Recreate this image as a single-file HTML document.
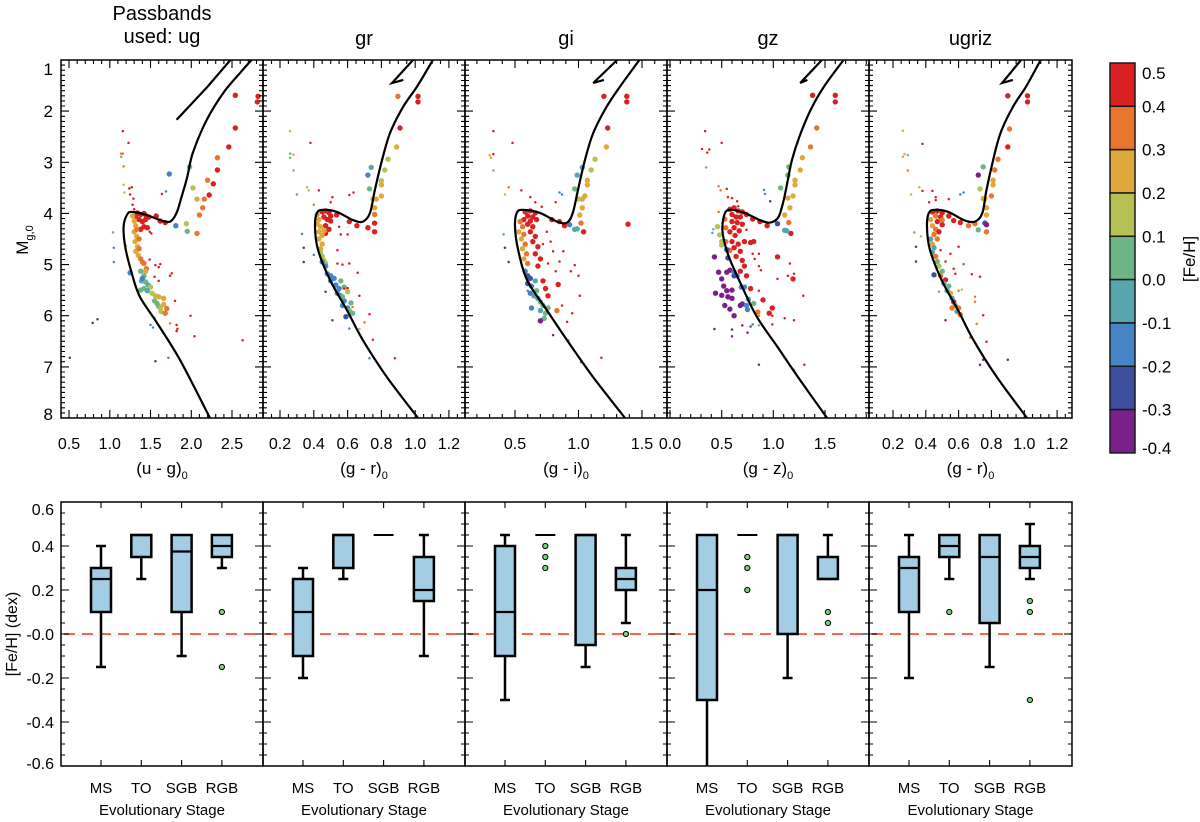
<!DOCTYPE html>
<html><head><meta charset="utf-8"><title>CMD and [Fe/H] box plots</title>
<style>
html,body{margin:0;padding:0;background:#fff;}
svg{display:block;font-family:"Liberation Sans",Arial,sans-serif;}
</style></head>
<body>
<svg id="chart" width="1200" height="822" viewBox="0 0 1200 822" xmlns="http://www.w3.org/2000/svg"></svg>
<script>
// ---------- DATA ----------
const fehBinColors=['#d92121','#e8762f','#e0a83a','#b5c152','#6db585','#57a6ae','#4585c6','#3f4fa0','#7a1f8c'];
const colorbarLabels=['0.5','0.4','0.3','0.2','0.1','0.0','-0.1','-0.2','-0.3','-0.4'];
const yTicksTop=[1,2,3,4,5,6,7,8];
const ticksUg=[0.5,1.0,1.5,2.0,2.5];
const ticksGr=[0.2,0.4,0.6,0.8,1.0,1.2];
const ticksGi=[0.5,1.0,1.5];
const ticksGz=[0.0,0.5,1.0,1.5];
const ticksUgriz=[0.2,0.4,0.6,0.8,1.0,1.2];
const yTicksBot=[0.6,0.4,0.2,0.0,-0.2,-0.4,-0.6];
const yTickLabelsBot=['0.6','0.4','0.2','-0.0','-0.2','-0.4','-0.6'];
const stages=['MS','TO','SGB','RGB'];

const isoUg=[[2.23,8.0],[1.86,6.86],[1.58,6.14],[1.37,5.63],[1.27,5.17],[1.19,4.65],[1.17,4.26],[1.21,4.03],[1.27,3.97],[1.45,4.03],[1.62,4.13],[1.74,4.16],[1.82,3.99],[1.88,3.68],[1.95,3.29],[2.02,2.81],[2.19,2.17],[2.39,1.65],[2.6,1.25],[2.74,1.0]];
const hbUg=[[1.82,2.17],[2.2,1.52],[2.48,1.0]];
const isoGr=[[1.017,8.0],[0.833,7.2],[0.691,6.48],[0.596,5.89],[0.496,5.3],[0.425,4.71],[0.407,4.26],[0.419,3.99],[0.454,3.93],[0.537,3.97],[0.632,4.13],[0.691,4.16],[0.733,3.99],[0.762,3.54],[0.804,2.96],[0.851,2.43],[0.928,1.92],[1.011,1.52],[1.105,1.0]];
const hbGr=[[0.987,1.0],[0.863,1.45],[0.93,1.39]];
const isoGi=[[1.366,8.0],[1.115,7.2],[0.91,6.48],[0.75,5.89],[0.594,5.3],[0.524,4.71],[0.5,4.26],[0.514,3.99],[0.563,3.93],[0.697,3.99],[0.83,4.16],[0.91,4.18],[0.955,3.99],[0.996,3.54],[1.05,2.96],[1.116,2.43],[1.22,1.92],[1.327,1.52],[1.48,1.0]];
const hbGi=[[1.305,1.0],[1.116,1.45],[1.2,1.39]];
const isoGz=[[1.52,8.0],[1.26,7.26],[1.04,6.61],[0.84,6.02],[0.70,5.44],[0.57,4.85],[0.51,4.39],[0.52,4.07],[0.57,3.93],[0.72,3.99],[0.87,4.13],[0.97,4.18],[1.05,4.07],[1.10,3.74],[1.14,3.35],[1.18,2.96],[1.25,2.51],[1.36,1.98],[1.49,1.52],[1.68,1.0]];
const hbGz=[[1.47,1.0],[1.26,1.45],[1.33,1.39]];
const isoUgriz=[[1.017,8.0],[0.833,7.2],[0.691,6.48],[0.596,5.89],[0.496,5.3],[0.425,4.71],[0.407,4.26],[0.419,3.99],[0.454,3.93],[0.537,3.97],[0.632,4.13],[0.70,4.16],[0.745,3.99],[0.77,3.54],[0.81,2.96],[0.855,2.43],[0.93,1.92],[1.011,1.52],[1.1,1.0]];
const hbUgriz=[[0.98,1.0],[0.865,1.45],[0.93,1.39]];

// stars: [colour index, M_g, [Fe/H], big(1)/small(0)]
const starsUg=[[2.54,1.69,.45,1],[2.82,1.71,.45,1],[2.81,1.82,.45,1],[2.54,2.33,.45,1],[2.46,2.70,.45,1],[2.32,2.91,.35,1],[2.32,3.15,.45,1],[2.2,3.35,.35,1],[2.27,3.42,.45,1],[2.22,3.64,.45,1],[2.16,3.72,.35,1],[2.07,3.72,.25,1],[2.14,3.89,.35,1],[2.1,4.03,.35,1],[1.98,3.09,.05,1],[2.02,3.50,.15,1],[1.73,3.23,-.15,1],[1.94,4.2,.15,1],[2.07,4.39,.35,1],[1.95,4.35,.05,1],[1.81,4.24,-.15,1],[1.68,4.18,.45,1],[1.57,4.05,.45,1],[1.62,4.15,.45,1],
[1.34,3.99,.45,1],[1.38,4.02,.45,1],[1.42,4.0,.45,1],[1.45,4.05,.45,1],[1.36,4.12,.45,1],[1.4,4.16,.45,1],[1.44,4.12,.45,1],[1.42,4.26,.45,1],[1.46,4.28,.45,1],[1.38,4.31,.45,1],[1.32,4.05,.45,1],[1.48,4.07,.45,1],
[1.28,4.05,.25,1],[1.3,4.15,.25,1],[1.32,4.24,.25,1],[1.3,4.36,.25,1],[1.33,4.45,.25,1],[1.31,4.55,.25,1],[1.34,4.65,.25,1],[1.32,4.74,.25,1],[1.35,4.82,.25,1],[1.33,4.31,.35,1],[1.36,4.5,.35,1],[1.36,4.69,.35,1],
[1.38,4.89,.35,1],[1.42,4.98,.35,1],[1.45,5.08,.35,1],[1.4,4.95,.35,1],[1.44,5.13,.25,1],
[1.38,5.13,.05,1],[1.42,5.22,.05,1],[1.39,5.32,-.05,1],[1.44,5.34,.05,1],[1.47,5.4,-.05,1],[1.42,5.47,.05,1],[1.5,5.44,.15,1],[1.46,5.51,-.05,1],[1.38,5.5,.05,1],[1.52,5.56,.15,1],[1.56,5.61,.15,1],[1.55,5.71,.05,1],[1.58,5.76,.05,1],[1.6,5.82,.05,1],[1.62,5.85,.15,1],[1.6,5.63,.25,1],[1.66,5.66,.25,1],[1.66,5.78,.25,1],[1.63,5.92,.15,1],[1.68,5.95,.35,1],[1.7,5.86,.35,1],[1.25,5.16,-.15,1],[1.4,5.27,-.15,1],
[1.16,2.39,.45,0],[1.23,2.62,.45,0],[1.14,2.83,.35,0],[1.16,2.83,.35,0],[1.14,2.89,.05,0],[1.17,3.08,.35,0],[1.17,3.44,.15,0],[1.18,3.59,.15,0],[1.24,3.51,.45,0],[1.27,3.49,.45,0],[1.25,3.63,.45,0],[1.29,3.71,.45,0],[1.64,3.62,.45,0],[1.69,3.57,-.15,0],[1.04,4.37,.05,0],[1.05,4.67,-.15,0],[1.05,4.95,-.15,0],[1.2,4.63,.15,0],[1.49,4.36,.45,0],[1.51,4.39,.45,0],[1.49,4.9,.45,0],[1.56,5.01,.45,0],[1.6,5.05,.45,0],[1.62,4.99,.45,0],[1.74,5.22,.45,0],[1.76,5.17,.45,0],[1.8,5.71,.45,0],[1.99,6.0,.45,0],[1.74,6.15,.35,0],[1.82,6.18,.45,0],[1.83,6.26,.45,0],[1.82,6.3,.45,0],[2.04,6.4,.45,0],[2.63,6.48,.45,0],[1.5,6.18,-.15,0],[1.53,6.23,-.15,0],[1.55,6.04,.05,0],[0.79,6.14,-.35,0],[0.85,6.07,-.35,0],[0.51,6.82,-.35,0],[1.56,6.89,-.35,0],[1.72,6.82,-.15,0],[1.3,3.92,.45,0],[1.28,3.83,.45,0],[1.55,5.24,.45,0],[1.6,5.32,.45,0]];

const starsGr=[[0.898,1.71,.35,1],[1.017,1.71,.45,1],[1.017,1.82,.45,1],[0.91,2.33,.45,1],[0.89,2.70,.25,1],[0.84,2.94,.15,1],[0.82,3.15,.15,1],[0.8,3.36,.15,1],[0.8,3.44,.25,1],[0.8,3.66,.25,1],[0.75,3.72,.15,1],[0.77,3.72,.25,1],[0.76,3.89,.25,1],[0.76,4.02,.35,1],[0.76,4.19,.45,1],[0.76,4.36,.45,1],[0.74,3.1,-.05,1],[0.72,3.25,-.15,1],[0.73,3.52,.05,1],[0.72,4.28,.45,1],[0.655,4.24,.45,1],[0.61,4.16,.45,1],[0.535,4.03,.45,1],
[0.45,3.97,.45,1],[0.47,3.95,.45,1],[0.49,3.99,.45,1],[0.5,4.05,.45,1],[0.46,4.07,.45,1],[0.48,4.12,.45,1],[0.5,4.15,.45,1],[0.47,4.24,.45,1],[0.47,4.39,.45,1],[0.49,4.31,.45,1],
[0.42,4.02,.25,1],[0.43,4.12,.25,1],[0.42,4.21,.25,1],[0.44,4.26,.25,1],[0.43,4.36,.25,1],[0.45,4.43,.25,1],[0.43,4.5,.25,1],[0.45,4.6,.25,1],[0.44,4.69,.25,1],[0.46,4.34,.25,1],
[0.44,4.76,.15,1],[0.45,4.84,.15,1],[0.46,4.92,.15,1],[0.47,4.98,.15,1],
[0.45,4.95,-.15,1],[0.47,5.03,-.15,1],[0.48,5.18,-.15,1],[0.5,5.22,-.15,1],[0.52,5.27,-.15,1],[0.5,5.32,-.15,1],[0.53,5.4,-.15,1],[0.55,5.47,-.15,1],[0.54,5.56,-.15,1],[0.56,5.61,-.15,1],[0.58,5.71,-.15,1],[0.57,5.8,-.15,1],[0.6,5.85,-.15,1],[0.59,6.02,-.25,1],[0.56,5.32,.05,1],[0.58,5.44,.05,1],[0.6,5.53,.15,1],[0.61,5.9,.05,1],[0.63,5.95,.05,1],[0.62,5.75,.05,1],[0.57,5.63,.05,1],
[0.26,2.39,.25,0],[0.38,2.62,.45,0],[0.26,2.83,.05,0],[0.28,2.85,.25,0],[0.26,2.91,.05,0],[0.28,3.16,.05,0],[0.36,3.49,.15,0],[0.3,3.63,-.05,0],[0.37,3.55,.15,0],[0.43,3.55,.45,0],[0.61,3.64,.45,0],[0.635,3.59,.45,0],[0.33,4.4,-.15,0],[0.34,4.67,-.35,0],[0.34,4.95,-.35,0],[0.4,4.81,-.15,0],[0.54,4.72,.45,0],[0.54,4.98,.45,0],[0.57,5.0,.45,0],[0.61,4.98,.45,0],[0.66,5.16,.45,0],[0.58,5.47,.45,0],[0.6,5.46,.45,0],[0.67,5.61,.45,0],[0.73,5.97,.45,0],[0.63,5.83,.35,0],[0.7,6.13,.35,0],[0.67,6.26,.15,0],[0.47,5.53,-.35,0],[0.51,6.09,-.35,0],[0.61,6.25,-.15,0],[0.75,6.47,.45,0],[0.88,6.83,.45,0],[0.73,6.83,-.15,0],[0.55,4.26,.45,0],[0.6,4.41,.45,0],[0.56,4.41,.45,0],[0.5,3.78,.45,0],[0.51,3.68,.45,0],[0.4,3.83,.35,0]];

const starsGi=[[1.2,1.71,.45,1],[1.38,1.71,.45,1],[1.38,1.82,.45,1],[1.23,2.33,.45,1],[1.22,2.70,.25,1],[1.13,2.94,.15,1],[1.1,3.15,.15,1],[1.07,3.35,.25,1],[1.07,3.44,.25,1],[1.05,3.66,.25,1],[1.03,3.72,.25,1],[1.03,3.89,.25,1],[1.01,4.03,.25,1],[1.02,4.19,.35,1],[1.04,4.36,.45,1],[1.39,4.21,.45,1],[1.03,3.1,-.05,1],[0.99,3.25,-.05,1],[0.97,3.52,.05,1],[1.0,3.72,.15,1],[0.97,4.31,-.05,1],[0.99,4.3,-.05,1],[0.93,4.22,-.15,1],[0.89,4.24,.45,1],[0.85,4.16,.45,1],[0.79,4.12,.45,1],
[0.58,3.97,.45,1],[0.62,3.95,.45,1],[0.66,3.99,.45,1],[0.6,4.05,.45,1],[0.64,4.07,.45,1],[0.57,4.12,.45,1],[0.62,4.15,.45,1],[0.67,4.12,.45,1],[0.6,4.21,.45,1],[0.64,4.26,.45,1],[0.62,4.36,.45,1],[0.66,4.45,.45,1],[0.64,4.55,.45,1],[0.68,4.65,.45,1],[0.66,4.79,.45,1],[0.7,4.89,.45,1],[0.68,5.03,.45,1],[0.72,5.32,.45,1],[0.74,5.47,.45,1],[0.84,5.39,.45,1],[0.76,5.61,.45,1],
[0.54,4.16,.35,1],[0.56,4.26,.35,1],[0.53,4.36,.25,1],[0.57,4.41,.35,1],[0.55,4.5,.25,1],[0.58,4.6,.35,1],[0.56,4.69,.25,1],[0.59,4.79,.35,1],[0.57,4.89,.25,1],[0.6,4.98,.35,1],
[0.58,5.13,-.15,1],[0.6,5.22,-.25,1],[0.62,5.27,-.25,1],[0.6,5.37,-.25,1],[0.63,5.42,-.15,1],[0.62,5.56,-.15,1],[0.66,5.32,-.05,1],[0.65,5.61,-.05,1],[0.67,5.51,.05,1],[0.63,5.85,-.15,1],
[0.68,5.66,-.05,1],[0.7,5.73,.05,1],[0.72,5.8,.05,1],[0.7,5.9,-.05,1],[0.74,5.95,.05,1],[0.76,5.85,.05,1],[0.73,6.05,.05,1],[0.83,5.9,.35,1],[0.7,6.1,-.35,1],
[0.33,2.39,.45,0],[0.48,2.62,.45,0],[0.3,2.86,.25,0],[0.33,2.84,.45,0],[0.31,2.91,.25,0],[0.33,3.16,.05,0],[0.45,3.49,.35,0],[0.42,3.63,.15,0],[0.55,3.55,.45,0],[0.85,3.59,-.15,0],[0.87,3.63,-.15,0],[0.82,3.78,.45,0],[0.41,4.41,-.05,0],[0.42,4.67,-.35,0],[0.45,4.95,-.35,0],[0.97,5.01,.45,0],[0.94,5.13,.45,0],[1.0,5.22,.45,0],[1.01,5.61,.45,0],[0.95,5.95,.45,0],[0.91,6.12,.45,0],[0.8,6.38,-.35,0],[0.92,6.48,.35,0],[1.02,6.91,-.15,0],[1.18,6.82,.45,0],[0.6,5.51,-.15,0],[0.87,5.8,.45,0],[0.75,4.36,.45,0],[0.78,4.55,.45,0],[0.8,4.74,.45,0],[0.72,4.6,.45,0],[0.85,4.94,.45,0],[0.88,4.74,.45,0],[0.76,4.98,.45,0],[0.82,5.13,.45,0],[0.71,3.87,.45,0],[0.66,3.78,.45,0],[0.62,3.68,.45,0]];

const starsGz=[[1.38,1.69,.45,1],[1.6,1.69,.45,1],[1.6,1.82,.45,1],[1.42,2.33,.35,1],[1.36,2.70,.35,1],[1.28,2.91,.25,1],[1.26,3.15,.25,1],[1.21,3.35,.25,1],[1.21,3.44,.25,1],[1.19,3.66,.25,1],[1.14,3.70,.25,1],[1.16,3.89,.25,1],[1.11,4.03,.25,1],[1.15,4.18,.35,1],[1.17,4.39,.45,1],[1.11,4.33,-.05,1],[1.13,4.34,-.05,1],[1.15,3.09,.05,1],[1.14,3.25,.05,1],[1.07,3.5,.05,1],[1.04,4.2,-.25,1],[0.94,4.24,.45,1],[0.87,4.16,.45,1],[0.8,4.11,.45,1],[1.04,4.85,.45,1],[1.19,5.28,.45,1],
[0.58,3.92,.45,1],[0.62,3.89,.45,1],[0.66,3.95,.45,1],[0.7,3.97,.45,1],[0.74,4.02,.45,1],[0.6,4.02,.45,1],[0.64,4.07,.45,1],[0.68,4.07,.45,1],[0.6,4.16,.45,1],[0.65,4.18,.45,1],[0.7,4.21,.45,1],[0.62,4.28,.45,1],[0.67,4.34,.45,1],[0.58,4.36,.45,1],[0.63,4.43,.45,1],[0.6,4.55,.45,1],[0.66,4.6,.45,1],[0.72,4.55,.45,1],[0.62,4.67,.45,1],[0.68,4.74,.45,1],[0.64,4.84,.45,1],[0.7,4.92,.45,1],[0.72,5.03,.45,1],[0.68,5.13,.45,1],[0.74,5.22,.45,1],[0.78,5.47,.45,1],[0.9,5.69,.45,1],[0.99,5.85,.45,1],[0.96,5.95,.45,1],[0.81,4.55,.45,1],[0.78,4.57,.45,1],
[0.46,4.26,.15,1],[0.48,4.42,.15,1],[0.5,4.55,.15,1],[0.5,4.62,.15,1],[0.54,4.28,.35,1],[0.54,4.55,.35,1],[0.58,4.72,.35,1],[0.53,4.11,.35,1],[0.85,5.93,.35,1],[0.81,5.76,.05,1],
[0.43,4.85,-.35,1],[0.47,5.15,-.35,1],[0.5,5.28,-.35,1],[0.55,5.15,-.35,1],[0.58,5.11,-.35,1],[0.44,5.56,-.35,1],[0.5,5.6,-.35,1],[0.55,5.51,-.35,1],[0.56,5.63,-.35,1],[0.6,5.5,-.35,1],[0.53,5.8,-.35,1],[0.58,5.87,-.35,1],[0.62,6.0,-.35,1],[0.68,5.8,-.35,1],[0.7,5.77,-.35,1],[0.52,5.42,-.35,1],[0.6,5.66,-.35,1],
[0.55,4.71,-.25,1],[0.56,4.87,-.25,1],[0.62,5.15,-.15,1],[0.65,5.22,-.15,1],[0.69,5.44,-.15,1],[0.72,5.44,-.15,1],[0.74,5.8,-.15,1],[0.75,5.88,-.15,1],[0.76,5.68,-.05,1],[0.62,5.22,-.25,1],
[0.34,2.39,.45,0],[0.5,2.62,.45,0],[0.31,2.74,.45,0],[0.38,2.75,.45,0],[0.36,2.81,.45,0],[0.35,3.1,.05,0],[0.47,3.47,.35,0],[0.49,3.55,.35,0],[0.55,3.52,.45,0],[0.56,3.68,.45,0],[0.6,3.7,.45,0],[0.65,3.76,.45,0],[0.66,3.86,.45,0],[0.91,3.54,-.15,0],[0.92,3.62,-.15,0],[0.97,3.76,-.35,0],[0.47,3.97,.35,0],[0.42,4.31,-.05,0],[0.41,4.38,-.05,0],[0.74,4.32,.45,0],[0.8,4.79,.45,0],[0.86,4.79,.45,0],[0.82,4.89,.45,0],[0.86,5.03,.45,0],[0.88,5.11,.45,0],[1.04,5.28,.45,0],[1.16,4.98,.45,0],[1.14,5.22,.45,0],[1.2,5.18,.45,0],[1.29,5.61,.45,0],[0.86,5.51,.45,0],[0.99,6.0,.45,0],[0.99,6.17,.45,0],[1.11,6.05,.45,0],[1.2,6.09,.45,0],[0.86,6.0,.35,0],[0.86,6.19,.05,0],[0.43,6.26,-.35,0],[0.6,6.27,-.35,0],[0.6,6.4,-.35,0],[0.7,6.19,-.35,0],[0.75,6.33,-.35,0],[0.78,6.21,-.25,0],[0.8,6.17,-.15,0],[0.86,6.96,-.35,0],[1.2,7.06,.35,0],[1.3,6.96,.45,0]];

const starsUgriz=[[0.9,1.7,.45,1],[1.02,1.7,.45,1],[1.02,1.82,.45,1],[0.91,2.35,.35,1],[0.9,2.70,.45,1],[0.84,2.94,.35,1],[0.82,3.15,.35,1],[0.81,3.35,.25,1],[0.81,3.44,.25,1],[0.8,3.66,.35,1],[0.75,3.09,.05,1],[0.72,3.25,-.35,1],[0.73,3.52,.15,1],[0.75,3.71,.25,1],[0.76,3.71,.25,1],[0.77,3.89,.25,1],[0.77,4.03,.25,1],[0.76,4.19,-.25,1],[0.77,4.22,-.35,1],[0.77,4.36,.35,1],[0.72,4.32,.05,1],[0.7,4.2,.35,1],[0.66,4.24,.35,1],[0.61,4.18,.45,1],[0.57,4.14,.45,1],[0.54,4.05,.45,1],[0.5,4.22,.45,1],
[0.44,3.97,.45,1],[0.47,3.95,.45,1],[0.5,3.99,.45,1],[0.46,4.05,.35,1],[0.49,4.07,.45,1],[0.43,4.12,.25,1],[0.47,4.16,.45,1],[0.5,4.13,.35,1],[0.44,4.24,.25,1],[0.46,4.31,.35,1],[0.48,4.36,.45,1],[0.45,4.41,.35,1],
[0.43,4.5,-.05,1],[0.44,4.6,.25,1],[0.45,4.67,-.05,1],[0.44,4.76,-.05,1],[0.46,4.84,.35,1],[0.47,4.94,.05,1],[0.45,5.2,-.25,1],[0.48,5.03,.15,1],[0.5,5.13,.05,1],[0.49,5.22,.35,1],[0.52,5.3,.45,1],[0.51,5.37,-.05,1],[0.54,5.42,.05,1],[0.53,5.51,-.05,1],[0.55,5.56,.25,1],[0.56,5.66,-.05,1],[0.57,5.73,.45,1],[0.58,5.8,.05,1],[0.6,5.85,.35,1],[0.59,5.92,-.05,1],[0.61,5.98,.35,1],[0.56,5.85,.35,1],[0.47,4.5,.35,1],
[0.26,2.38,.25,0],[0.38,2.64,.45,0],[0.26,2.89,.25,0],[0.27,2.84,.25,0],[0.29,2.86,.05,0],[0.29,3.16,.35,0],[0.36,3.49,.15,0],[0.31,3.63,.15,0],[0.38,3.56,.45,0],[0.44,3.56,.45,0],[0.46,3.68,.45,0],[0.46,3.74,.45,0],[0.42,3.78,.45,0],[0.54,3.72,.45,0],[0.61,3.63,-.15,0],[0.63,3.59,-.15,0],[0.33,4.37,.05,0],[0.34,4.65,-.35,0],[0.34,4.94,-.35,0],[0.37,4.45,.15,0],[0.49,4.72,.45,0],[0.6,4.65,.45,0],[0.63,4.99,-.15,0],[0.68,5.19,.45,0],[0.73,5.24,.45,0],[0.7,5.63,.35,0],[0.7,5.73,.35,0],[0.75,5.99,.45,0],[0.71,6.16,.35,0],[0.77,6.51,.45,0],[0.67,6.43,.35,0],[0.75,6.86,-.35,0],[0.9,6.86,-.35,0],[0.73,6.96,-.35,0],[0.52,6.09,-.35,0],[0.48,5.53,.05,0],[0.6,5.51,.35,0],[0.62,5.49,.15,0],[0.55,4.79,.45,0],[0.52,4.94,.45,0],[0.57,5.08,.45,0],[0.58,5.18,.45,0]];

// box data: [low whisker, q1, median, q3, high whisker] per stage
const boxUg=[[-0.15,0.1,0.25,0.3,0.4],[0.25,0.35,0.45,0.45,0.45],[-0.1,0.1,0.375,0.45,0.45],[0.3,0.35,0.4,0.45,0.45]];
const outUg=[[],[],[],[0.1,-0.15]];
const boxGr=[[-0.2,-0.1,0.1,0.25,0.3],[0.25,0.3,0.45,0.45,0.45],[0.45,0.45,0.45,0.45,0.45],[-0.1,0.15,0.2,0.35,0.45]];
const outGr=[[],[],[],[]];
const boxGi=[[-0.3,-0.1,0.1,0.4,0.45],[0.45,0.45,0.45,0.45,0.45],[-0.15,-0.05,0.45,0.45,0.45],[0.05,0.2,0.25,0.3,0.45]];
const outGi=[[],[0.4,0.35,0.3],[],[0.0]];
const boxGz=[[-0.7,-0.3,0.2,0.45,0.45],[0.45,0.45,0.45,0.45,0.45],[-0.2,0.0,0.45,0.45,0.45],[0.25,0.25,0.25,0.35,0.45]];
const outGz=[[],[0.35,0.3,0.2],[],[0.1,0.05]];
const boxUgriz=[[-0.2,0.1,0.3,0.35,0.45],[0.25,0.35,0.4,0.45,0.45],[-0.15,0.05,0.35,0.45,0.45],[0.25,0.3,0.35,0.4,0.5]];
const outUgriz=[[],[0.1],[],[0.15,0.1,-0.3]];

// ---------- RENDER ----------
const NS='http://www.w3.org/2000/svg';
const svg=document.getElementById('chart');
function mk(tag,attrs,parent){const e=document.createElementNS(NS,tag);for(const k in attrs)e.setAttribute(k,attrs[k]);(parent||svg).appendChild(e);return e;}
const PL=[61,263,465,667,869,1072];
const TY0=60,TY1=418,M0=1,M1=8;
const BY0=502,BY1=766,V0=0.6,V1=-0.6;
function ym(m){return TY0+(m-M0)/(M1-M0)*(TY1-TY0);}
function yv(v){return BY0+(V0-v)/(V0-V1)*(BY1-BY0);}
function fehColor(f){let i=Math.floor((0.5-f)/0.1+1e-9);i=Math.max(0,Math.min(8,i));return fehBinColors[i];}
function smooth(p){let d='M'+p[0][0].toFixed(1)+','+p[0][1].toFixed(1);for(let i=0;i<p.length-1;i++){const p0=p[i-1]||p[i],p1=p[i],p2=p[i+1],p3=p[i+2]||p2;const c1=[p1[0]+(p2[0]-p0[0])/6,p1[1]+(p2[1]-p0[1])/6],c2=[p2[0]-(p3[0]-p1[0])/6,p2[1]-(p3[1]-p1[1])/6];d+=' C'+c1[0].toFixed(1)+','+c1[1].toFixed(1)+' '+c2[0].toFixed(1)+','+c2[1].toFixed(1)+' '+p2[0].toFixed(1)+','+p2[1].toFixed(1);}return d;}

const panels=[
 {key:'ug',stars:starsUg,iso:isoUg,hb:hbUg,dom:[0.4018,2.88],major:0.5,minor:0.1,ticks:ticksUg,lab:'(u - g)',box:boxUg,out:outUg},
 {key:'gr',stars:starsGr,iso:isoGr,hb:hbGr,dom:[0.0994,1.295],major:0.2,minor:0.05,ticks:ticksGr,lab:'(g - r)',box:boxGr,out:outGr},
 {key:'gi',stars:starsGi,iso:isoGi,hb:hbGi,dom:[0.106,1.697],major:0.5,minor:0.1,ticks:ticksGi,lab:'(g - i)',box:boxGi,out:outGi},
 {key:'gz',stars:starsGz,iso:isoGz,hb:hbGz,dom:[-0.029,1.926],major:0.5,minor:0.1,ticks:ticksGz,lab:'(g - z)',box:boxGz,out:outGz},
 {key:'ugriz',stars:starsUgriz,iso:isoUgriz,hb:hbUgriz,dom:[0.0537,1.291],major:0.2,minor:0.05,ticks:ticksUgriz,lab:'(g - r)',box:boxUgriz,out:outUgriz}
];
const titles=['','gr','gi','gz','ugriz'];
const defs=mk('defs',{});

panels.forEach((P,p)=>{
  const x0=PL[p],x1=PL[p+1];
  const xs=c=>x0+(c-P.dom[0])/(P.dom[1]-P.dom[0])*(x1-x0);
  const g=mk('g',{});
  
  
  const cp=mk('clipPath',{id:'clip'+p},defs);
  mk('rect',{x:x0,y:TY0,width:x1-x0,height:TY1-TY0},cp);
  // stars
  const sg=mk('g',{'clip-path':'url(#clip'+p+')'},g);
  
  
  P.stars.slice().sort((a,b)=>b[3]-a[3]).forEach(s=>{
    const c=mk('circle',{cx:xs(s[0]).toFixed(1),cy:ym(s[1]).toFixed(1),r:s[3]?2.7:1.25,fill:fehColor(s[2])},sg);
    
    
  });
  // isochrone
  const ip=mk('path',{d:smooth(P.iso.map(q=>[xs(q[0]),ym(q[1])])),fill:'none',stroke:'#000','stroke-width':2.2,'clip-path':'url(#clip'+p+')'},g);
  
  
  const hp=mk('polyline',{points:P.hb.map(q=>xs(q[0]).toFixed(1)+','+ym(q[1]).toFixed(1)).join(' '),fill:'none',stroke:'#000','stroke-width':2.2,'clip-path':'url(#clip'+p+')'},g);
  
  
  // frame
  const fr=mk('rect',{x:x0,y:TY0,width:x1-x0,height:TY1-TY0,fill:'none',stroke:'#000','stroke-width':1.5},g);
  
  
  // x ticks
  let tk='';
  for(let k=Math.ceil(P.dom[0]/P.minor-1e-6);k<=Math.floor(P.dom[1]/P.minor+1e-6);k++){
    const v=k*P.minor,X=xs(v).toFixed(1);
    const isMaj=Math.abs(v/P.major-Math.round(v/P.major))<1e-6;const L=isMaj?8:4;
    tk+='M'+X+','+TY1+'v-'+L+'M'+X+','+TY0+'v'+L;
  }
  for(let k=10;k<=80;k++){const v=k/10;if(v<M0||v>M1)continue;const Y=ym(v).toFixed(1);const L=(k%10===0)?8:4;tk+='M'+x0+','+Y+'h'+L+'M'+x1+','+Y+'h-'+L;}
  const tp=mk('path',{d:tk,stroke:'#000','stroke-width':1.1,fill:'none'},g);
  
  
  P.ticks.forEach(v=>{
    const t=mk('text',{x:xs(v).toFixed(1),y:449,'text-anchor':'middle','font-size':16,fill:'#000'},g);
    t.textContent=v.toFixed(1);
    
    
  });
  const xt=mk('text',{x:(x0+x1)/2,y:474,'text-anchor':'middle','font-size':17,fill:'#000'},g);
  xt.textContent=P.lab;
  const sub=mk('tspan',{'font-size':11,dy:5},xt);sub.textContent='0';
  
  
  if(titles[p]){
    const tt=mk('text',{x:(x0+x1)/2,y:45,'text-anchor':'middle','font-size':20,fill:'#000'},g);
    tt.textContent=titles[p];
    
    
  }

  // ---- bottom box panel ----
  const bg=mk('g',{});
  
  
  const cpb=mk('clipPath',{id:'clipb'+p},defs);
  mk('rect',{x:x0,y:BY0,width:x1-x0,height:BY1-BY0},cpb);
  const dl=mk('line',{x1:x0,x2:x1,y1:yv(0),y2:yv(0),stroke:'#f4674a','stroke-width':2,'stroke-dasharray':'11,7','stroke-dashoffset':-3},bg);
  
  
  const sx=i=>x0+40+i*40.3;
  const inner=mk('g',{'clip-path':'url(#clipb'+p+')'},bg);
  P.box.forEach((b,i)=>{
    const X=sx(i);
    const bx=mk('g',{},inner);
    
    
    if(b[1]===b[3]){
      mk('line',{x1:X-10,x2:X+10,y1:yv(b[2]),y2:yv(b[2]),stroke:'#000','stroke-width':2},bx);
    }else{
      if(b[0]<b[1]){mk('line',{x1:X,x2:X,y1:yv(b[1]),y2:yv(b[0]),stroke:'#000','stroke-width':2.5},bx);mk('line',{x1:X-5,x2:X+5,y1:yv(b[0]),y2:yv(b[0]),stroke:'#000','stroke-width':2.5},bx);}
      if(b[4]>b[3]){mk('line',{x1:X,x2:X,y1:yv(b[3]),y2:yv(b[4]),stroke:'#000','stroke-width':2.5},bx);mk('line',{x1:X-5,x2:X+5,y1:yv(b[4]),y2:yv(b[4]),stroke:'#000','stroke-width':2.5},bx);}
      mk('rect',{x:X-10,y:yv(b[3]),width:20,height:yv(b[1])-yv(b[3]),fill:'#a2cde4',stroke:'#000','stroke-width':2.5},bx);
      mk('line',{x1:X-10,x2:X+10,y1:yv(b[2]),y2:yv(b[2]),stroke:'#000','stroke-width':2.2},bx);
    }
    P.out[i].forEach(o=>{
      const oc=mk('circle',{cx:X,cy:yv(o),r:2.6,fill:'#72d872',stroke:'#000','stroke-width':1},inner);
      
      
    });
  });
  const bf=mk('rect',{x:x0,y:BY0,width:x1-x0,height:BY1-BY0,fill:'none',stroke:'#000','stroke-width':1.5},bg);
  
  
  let bt='';
  for(let k=-12;k<=12;k++){const Y=yv(k*0.05).toFixed(1);const L=(k%4===0)?8:4;bt+='M'+x0+','+Y+'h'+L+'M'+x1+','+Y+'h-'+L;}
  stages.forEach((s,i)=>{const X=sx(i).toFixed(1);bt+='M'+X+','+BY1+'v-6M'+X+','+BY0+'v6';});
  const btp=mk('path',{d:bt,stroke:'#000','stroke-width':1.1,fill:'none'},bg);
  
  
  stages.forEach((s,i)=>{
    const t=mk('text',{x:sx(i),y:793,'text-anchor':'middle','font-size':15,fill:'#000'},bg);
    t.textContent=s;
    
    
  });
  const es=mk('text',{x:(x0+x1)/2,y:815,'text-anchor':'middle','font-size':15,fill:'#000'},bg);
  es.textContent='Evolutionary Stage';
  
  
});

// first-panel title
const t1=mk('text',{x:162,y:20,'text-anchor':'middle','font-size':20,fill:'#000'});
t1.textContent='Passbands';


const t2=mk('text',{x:162,y:43,'text-anchor':'middle','font-size':20,fill:'#000'});
t2.textContent='used: ug';



// y tick labels top
yTicksTop.forEach(v=>{
  const Y=Math.min(Math.max(ym(v),TY0+9),TY1-4);
  const t=mk('text',{x:53,y:(Y+6).toFixed(1),'text-anchor':'end','font-size':17,fill:'#000'});
  t.textContent=String(v);
  
  
});
const ylt=mk('text',{x:0,y:0,'text-anchor':'middle','font-size':17,fill:'#000',transform:'translate(28,240) rotate(-90)'});
ylt.textContent='M';
const ys=mk('tspan',{'font-size':11,dy:5},ylt);ys.textContent='g,0';



// y tick labels bottom
yTicksBot.forEach((v,i)=>{
  const Y=Math.min(Math.max(yv(v),BY0+7),BY1-3);
  const t=mk('text',{x:54,y:(Y+6).toFixed(1),'text-anchor':'end','font-size':16,fill:'#000'});
  t.textContent=yTickLabelsBot[i];
  
  
});
const ylb=mk('text',{x:0,y:0,'text-anchor':'middle','font-size':16,fill:'#000',transform:'translate(17,634) rotate(-90)'});
ylb.textContent='[Fe/H] (dex)';



// colorbar
const cb=mk('g',{});


const CBY0=63,CBH=43.33;
fehBinColors.forEach((c,i)=>{
  const r=mk('rect',{x:1110,y:(CBY0+i*CBH).toFixed(1),width:25,height:CBH.toFixed(2),fill:c,stroke:'#1a1a1a','stroke-width':1.5},cb);
  
  
});
colorbarLabels.forEach((s,i)=>{
  const Y=Math.min(Math.max(CBY0+i*CBH,73),448);
  const t=mk('text',{x:1142,y:(Y+6).toFixed(1),'font-size':17,fill:'#000'},cb);
  t.textContent=s;
  
  
});
const cbt=mk('text',{x:0,y:0,'text-anchor':'middle','font-size':17,fill:'#000',transform:'translate(1195,259) rotate(-90)'},cb);
cbt.textContent='[Fe/H]';


</script>
</body></html>
